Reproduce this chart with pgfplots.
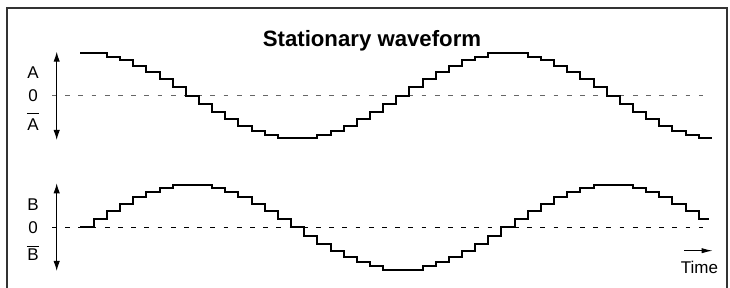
\documentclass[border=0pt]{standalone}
\usepackage{pgfplots}
\pgfplotsset{compat=1.18}
\usetikzlibrary{arrows.meta}
\usepackage{fontspec}
\setmainfont{Liberation Sans}

\begin{document}
\begin{tikzpicture}
\useasboundingbox (0pt,0pt) rectangle (365pt,144pt);
\pgfplotsset{wave/.style={hide axis, scale only axis, width=335.3pt, height=50.88pt,
  xmin=-4.5, xmax=46.5, ymin=-1.2, ymax=1.2, clip=false, anchor=origin}}
% Phase A
\begin{axis}[wave, at={(53.5pt,96.15pt)}]
\addplot[black!60, line width=0.5pt, dash pattern=on 2.4pt off 4.2pt] coordinates {(-4.18,0) (45.3,0)};
\addplot[const plot, black, line width=1pt] coordinates {
(-2.05,1) (0,0.92) (1,0.83) (2,0.71) (3,0.56) (4,0.39) (5,0.2) (6,0) (7,-0.2) (8,-0.39)
(9,-0.56) (10,-0.71) (11,-0.83) (12,-0.92) (13,-1) (16,-0.92) (17,-0.83) (18,-0.71)
(19,-0.56) (20,-0.39) (21,-0.2) (22,0) (23,0.2) (24,0.39) (25,0.56) (26,0.71) (27,0.83)
(28,0.92) (29,1) (32,0.92) (33,0.83) (34,0.71) (35,0.56) (36,0.39) (37,0.2) (38,0)
(39,-0.2) (40,-0.39) (41,-0.56) (42,-0.71) (43,-0.83) (44,-0.92) (45,-1) (46,-1)};
\end{axis}
% Phase B
\begin{axis}[wave, at={(53.5pt,30.35pt)}]
\addplot[black, line width=0.5pt, dash pattern=on 2.4pt off 4.2pt] coordinates {(-4.18,0) (45.3,0)};
\addplot[const plot, black, line width=1pt] coordinates {
(-2.05,0) (-1,0.2) (0,0.39) (1,0.56) (2,0.71) (3,0.83) (4,0.92) (5,1) (8,0.92) (9,0.83)
(10,0.71) (11,0.56) (12,0.39) (13,0.2) (14,0) (15,-0.2) (16,-0.39) (17,-0.56) (18,-0.71)
(19,-0.83) (20,-0.92) (21,-1) (24,-0.92) (25,-0.83) (26,-0.71) (27,-0.56) (28,-0.39)
(29,-0.2) (30,0) (31,0.2) (32,0.39) (33,0.56) (34,0.71) (35,0.83) (36,0.92) (37,1)
(40,0.92) (41,0.83) (42,0.71) (43,0.56) (44,0.39) (45,0.2) (45.8,0.2)};
\end{axis}
\begin{scope}[shift={(0pt,144pt)}, x=0.5pt, y=-0.5pt]
\draw[line width=0.65pt, black!80] (7,300) -- (7,8) -- (727,8) -- (727,300);
% title
\node[anchor=base, inner sep=0pt, font=\fontsize{11.1}{13}\bfseries\selectfont] at (372,46.7) {Stationary waveform};
% labels
\begin{scope}[every node/.style={anchor=base, inner sep=0pt, font=\fontsize{8.5}{10}\selectfont}]
\node at (33,79) {A};
\node at (33,101.7) {0};
\node (abar) at (33,131) {A};
\node at (33,211) {B};
\node at (33,233.3) {0};
\node (bbar) at (33,260.7) {B};
\node at (699.5,273.3) {Time};
\end{scope}
\coordinate (ya) at (0,113.4);
\coordinate (yb) at (0,246.6);
\draw[line width=0.5pt] (abar.west |- ya) -- (abar.east |- ya);
\draw[line width=0.5pt] (bbar.west |- yb) -- (bbar.east |- yb);
% axis arrows
\draw[line width=0.5pt, {Latex[length=5pt,width=3.2pt]}-{Latex[length=5pt,width=3.2pt]}] (56.7,51.7) -- (56.7,140);
\draw[line width=0.5pt, {Latex[length=5pt,width=3.2pt]}-{Latex[length=5pt,width=3.2pt]}] (56.7,183.3) -- (56.7,271);
\draw[line width=0.5pt, -{Latex[length=5.5pt,width=2.6pt]}] (684,250.7) -- (712.7,250.7);
\end{scope}
\end{tikzpicture}
\end{document}
